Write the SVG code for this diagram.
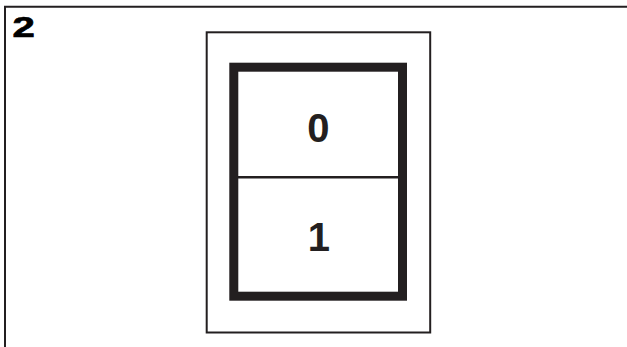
<svg xmlns="http://www.w3.org/2000/svg" width="627" height="347" viewBox="0 0 627 347">
<style>
.ln{fill:none;stroke:#231f20}
.t{font-family:'Liberation Sans',Arial,Helvetica,sans-serif;font-weight:700;fill:#231f20;font-size:40px;text-anchor:middle}
.n{font-family:'Liberation Sans',Arial,Helvetica,sans-serif;font-weight:700;fill:#000000;stroke:#000000;stroke-width:0.7px;font-size:29.5px}
</style>
<rect width="627" height="347" fill="#ffffff"/>
<g id="frame">
<path class="ln" stroke-width="2" d="M5,347 V6.7 H627"/>
<text class="n" x="0" y="0" transform="translate(12.5 36.8) scale(1.36 1)">2</text>
</g>
<g id="outer-box">
<rect class="ln" stroke-width="2" x="206.7" y="32.3" width="223.5" height="300.2"/>
</g>
<g id="inner-box">
<rect class="ln" stroke-width="9" x="233.8" y="67.2" width="168.7" height="229"/>
</g>
<g id="connectors">
<line class="ln" stroke-width="2.5" x1="238" y1="177.2" x2="398.5" y2="177.2"/>
</g>
<g id="cell-0">
<text class="t" x="318.3" y="141.8">0</text>
</g>
<g id="cell-1">
<text class="t" x="318.8" y="250.8">1</text>
</g>
</svg>
